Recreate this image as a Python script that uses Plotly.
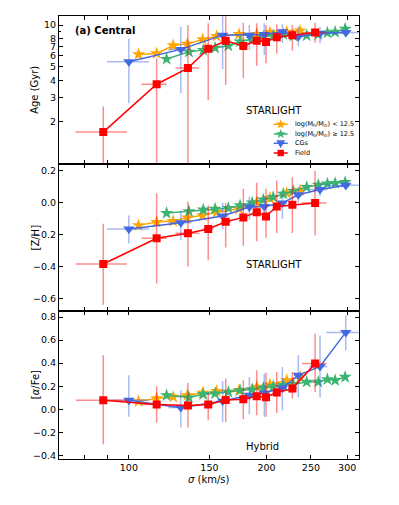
import math
import plotly.graph_objects as go
from plotly.subplots import make_subplots

# ---------------- data ----------------
# log(Mh/Msun) < 12.5 (orange)
lo_sigma = [105, 115, 125, 134.2, 145, 155.5, 174.1, 190.3, 203.5, 221.3, 236.7]
lo_age = [6.14, 6.24, 7.12, 7.31, 7.87, 8.31, 8.59, 8.6, 8.84, 8.9, 9.1]
lo_zh = [-0.142, -0.121, -0.115, -0.094, -0.079, -0.059, -0.038, 0.004, 0.029, 0.06, 0.077]
lo_afe = [0.069, 0.093, 0.107, 0.121, 0.141, 0.156, 0.164, 0.193, 0.214, 0.251, 0.28]

# log(Mh/Msun) >= 12.5 (green)
hi_sigma = [120.9, 135.3, 145.4, 154.3, 165, 175, 186, 196.7, 206.8, 217.6, 228.8, 244.7, 259.5, 271.6, 282.4, 297]
hi_age = [5.68, 6.41, 6.59, 6.85, 7.08, 7.6, 7.9, 8.2, 8.45, 8.55, 8.35, 8.4, 8.55, 8.8, 8.9, 9.38]
hi_zh = [-0.065, -0.054, -0.044, -0.038, -0.034, -0.017, 0.0, 0.019, 0.035, 0.056, 0.073, 0.098, 0.112, 0.119, 0.123, 0.129]
hi_afe = [0.121, 0.101, 0.13, 0.136, 0.15, 0.164, 0.173, 0.185, 0.199, 0.208, 0.217, 0.237, 0.237, 0.26, 0.251, 0.28]

# CGs (blue)
cg_sigma = [100, 129.9, 160.3, 183.4, 197.7, 216.5, 234.6, 261.7, 297.9]
cg_sig_minus = [10.4, 8, 5, 5, 5, 5, 5, 14, 28]
cg_sig_plus = [10.6, 7, 5, 5, 5, 5, 5, 10, 30]
cg_age = [5.43, 6.67, 8.45, 8.45, 8.55, 8.93, 8.22, 8.69, 8.84]
cg_age_plus = [2.57, 3.03, 3.2, 1.55, 1.75, 1.2, 1.5, 1.0, 0.9]
cg_age_minus = [2.7, 3.45, 3.66, 1.86, 2.48, 1.5, 1.2, 1.3, 0.7]
cg_zh = [-0.165, -0.125, -0.083, -0.027, -0.023, -0.002, 0.05, 0.083, 0.11]
cg_zh_plus = [0.085, 0.077, 0.083, 0.066, 0.06, 0.06, 0.05, 0.04, 0.03]
cg_zh_minus = [0.091, 0.111, 0.084, 0.079, 0.06, 0.1, 0.05, 0.04, 0.03]
cg_afe = [0.078, 0.014, 0.072, 0.121, 0.141, 0.185, 0.294, 0.372, 0.667]
cg_afe_plus = [0.216, 0.15, 0.17, 0.159, 0.168, 0.181, 0.174, 0.269, 0.147]
cg_afe_minus = [0.144, 0.173, 0.182, 0.164, 0.207, 0.194, 0.187, 0.271, 0.156]

# Field (red)
fd_sigma = [87.9, 115, 134.6, 149.1, 162.8, 177.9, 190.3, 199.4, 210.5, 227.7, 255.3]
fd_sig_minus = [11.4, 8.5, 8.2, 4, 4, 4, 4, 4, 4, 4, 16.4]
fd_sig_plus = [11.1, 6, 8.1, 4, 4, 4, 4, 4, 4, 4, 15.2]
fd_age = [1.69, 3.74, 4.89, 6.74, 7.69, 7.05, 7.69, 7.53, 8.17, 8.45, 8.84]
fd_age_plus = [0.89, 2.01, 5.11, 3.56, 3.9, 3.35, 2.61, 2.47, 1.93, 1.55, 1.56]
fd_age_minus = [0.9, 2.9, 4.0, 3.86, 4.0, 2.92, 2.61, 2.24, 1.93, 1.94, 1.4]
fd_zh = [-0.384, -0.223, -0.192, -0.165, -0.119, -0.092, -0.059, -0.086, -0.023, -0.013, -0.002]
fd_zh_plus = [0.253, 0.283, 0.2, 0.148, 0.119, 0.179, 0.184, 0.173, 0.163, 0.173, 0.202]
fd_zh_minus = [0.256, 0.283, 0.208, 0.195, 0.161, 0.178, 0.183, 0.133, 0.167, 0.177, 0.203]
fd_afe = [0.078, 0.041, 0.032, 0.041, 0.081, 0.087, 0.113, 0.104, 0.145, 0.179, 0.396]
fd_afe_plus = [0.39, 0.159, 0.196, 0.1, 0.185, 0.164, 0.225, 0.214, 0.178, 0.144, 0.259]
fd_afe_minus = [0.381, 0.159, 0.191, 0.136, 0.191, 0.174, 0.165, 0.17, 0.177, 0.086, 0.246]

x_tickvals = [80, 90, 100, 150, 200, 250, 300]
x_ticktext = ["", "", "100", "150", "200", "250", "300"]
age_tickvals = [2, 3, 4, 5, 6, 7, 8, 10]
zh_tickvals = [0.2, 0.0, -0.2, -0.4, -0.6]
afe_tickvals = [0.8, 0.6, 0.4, 0.2, 0.0, -0.2, -0.4]

legend_labels = ["log(M<sub>h</sub>/M<sub>⊙</sub>) < 12.5", "log(M<sub>h</sub>/M<sub>⊙</sub>) ≥ 12.5", "CGs", "Field"]

ORANGE = "#FFA500"
GREEN = "#3CB371"
BLUE = "#4169E1"
RED = "#FF0000"
BLUE_ERR = "rgba(65,105,225,0.45)"
RED_ERR = "rgba(255,0,0,0.45)"
FONT = "DejaVu Sans"

fig = make_subplots(rows=3, cols=1, shared_xaxes=True, vertical_spacing=0)

panels = [
    (1, lo_age, hi_age, (cg_age, cg_age_plus, cg_age_minus), (fd_age, fd_age_plus, fd_age_minus)),
    (2, lo_zh, hi_zh, (cg_zh, cg_zh_plus, cg_zh_minus), (fd_zh, fd_zh_plus, fd_zh_minus)),
    (3, lo_afe, hi_afe, (cg_afe, cg_afe_plus, cg_afe_minus), (fd_afe, fd_afe_plus, fd_afe_minus)),
]

for row, lo_y, hi_y, cg, fd in panels:
    fig.add_trace(go.Scatter(
        x=lo_sigma, y=lo_y, mode="lines+markers", name=legend_labels[0],
        line=dict(color=ORANGE, width=1.5),
        marker=dict(symbol="star", size=10, color=ORANGE, line=dict(width=0))), row=row, col=1)
    fig.add_trace(go.Scatter(
        x=hi_sigma, y=hi_y, mode="lines+markers", name=legend_labels[1],
        line=dict(color=GREEN, width=1.5),
        marker=dict(symbol="star", size=10, color=GREEN, line=dict(width=0))), row=row, col=1)
    fig.add_trace(go.Scatter(
        x=cg_sigma, y=cg[0], mode="lines+markers", name=legend_labels[2],
        line=dict(color=BLUE, width=1.5),
        marker=dict(symbol="triangle-down", size=10, color=BLUE, line=dict(width=0)),
        error_y=dict(type="data", array=cg[1], arrayminus=cg[2], color=BLUE_ERR, thickness=1.5, width=0),
        error_x=dict(type="data", array=cg_sig_plus, arrayminus=cg_sig_minus, color=BLUE_ERR, thickness=1.5, width=0)),
        row=row, col=1)
    fig.add_trace(go.Scatter(
        x=fd_sigma, y=fd[0], mode="lines+markers", name=legend_labels[3],
        line=dict(color=RED, width=1.5),
        marker=dict(symbol="square", size=8, color=RED, line=dict(width=0)),
        error_y=dict(type="data", array=fd[1], arrayminus=fd[2], color=RED_ERR, thickness=1.5, width=0),
        error_x=dict(type="data", array=fd_sig_plus, arrayminus=fd_sig_minus, color=RED_ERR, thickness=1.5, width=0)),
        row=row, col=1)

axis_common = dict(showline=True, linecolor="black", linewidth=1, mirror="allticks",
                   ticks="inside", ticklen=4, tickcolor="black", showgrid=False, zeroline=False,
                   tickfont=dict(family=FONT, size=9.5, color="black"))

for r in (1, 2, 3):
    fig.update_xaxes(type="log", range=[1.8473, 2.503], tickvals=x_tickvals, ticktext=x_ticktext,
                     showticklabels=(r == 3), row=r, col=1, **axis_common)

fig.update_yaxes(type="log", range=[0.0, 1.065], tickvals=age_tickvals,
                 ticktext=[str(v) for v in age_tickvals],
                 minor=dict(tickvals=[9], ticks="inside", ticklen=2, tickcolor="black"),
                 row=1, col=1, **axis_common)
fig.update_yaxes(range=[-0.681, 0.245], tickvals=zh_tickvals, tickformat=".1f", row=2, col=1, **axis_common)
fig.update_yaxes(range=[-0.432, 0.85], tickvals=afe_tickvals, tickformat=".1f", row=3, col=1, **axis_common)

ann_font = dict(family=FONT, size=10, color="black")
fig.add_annotation(text="<b>(a) Central</b>", xref="x domain", yref="y domain", x=0.045, y=0.905,
                   xanchor="left", yanchor="middle", showarrow=False,
                   font=dict(family=FONT, size=10, color="black"), row=1, col=1)
fig.add_annotation(text="STARLIGHT", xref="x domain", yref="y domain", x=0.717, y=0.36,
                   xanchor="center", yanchor="middle", showarrow=False, font=ann_font, row=1, col=1)
fig.add_annotation(text="STARLIGHT", xref="x2 domain", yref="y2 domain", x=0.717, y=0.318,
                   xanchor="center", yanchor="middle", showarrow=False, font=ann_font, row=2, col=1)
fig.add_annotation(text="Hybrid", xref="x3 domain", yref="y3 domain", x=0.677, y=0.083,
                   xanchor="center", yanchor="middle", showarrow=False, font=ann_font, row=3, col=1)

# axis titles
fig.add_annotation(text="Age (Gyr)", xref="paper", yref="y domain", x=-0.08, y=0.5, textangle=-90,
                   xanchor="center", yanchor="middle", showarrow=False, font=ann_font)
fig.add_annotation(text="[Z/H]", xref="paper", yref="y2 domain", x=-0.08, y=0.5, textangle=-90,
                   xanchor="center", yanchor="middle", showarrow=False, font=ann_font)
fig.add_annotation(text="[<i>α</i>/Fe]", xref="paper", yref="y3 domain", x=-0.08, y=0.5, textangle=-90,
                   xanchor="center", yanchor="middle", showarrow=False, font=ann_font)
fig.add_annotation(text="<i>σ</i> (km/s)", xref="paper", yref="paper", x=0.5, y=-0.047,
                   xanchor="center", yanchor="middle", showarrow=False, font=ann_font)

# ---- hand-drawn compact legend (matplotlib style) ----
def star_path(ro, ri):
    pts = []
    for k in range(10):
        ang = math.pi / 2 + k * math.pi / 5
        rr = ro if k % 2 == 0 else ri
        pts.append((rr * math.cos(ang), rr * math.sin(ang)))
    return "M " + " L ".join(f"{px:.2f},{py:.2f}" for px, py in pts) + " Z"

leg_x = 0.739
leg_text_x = 0.78
leg_y = [0.7555, 0.7336, 0.7126, 0.6907]
leg_colors = [ORANGE, GREEN, BLUE, RED]
leg_paths = [star_path(5, 2.1), star_path(5, 2.1), "M -4.5,3 L 4.5,3 L 0,-5 Z", "M -3.2,-3.2 L 3.2,-3.2 L 3.2,3.2 L -3.2,3.2 Z"]
for lbl, yy, col, pth in zip(legend_labels, leg_y, leg_colors, leg_paths):
    fig.add_shape(type="line", xref="paper", yref="paper", xsizemode="pixel", ysizemode="pixel",
                  xanchor=leg_x, yanchor=yy, x0=-7, x1=7, y0=0, y1=0, line=dict(color=col, width=1.5))
    fig.add_shape(type="path", xref="paper", yref="paper", xsizemode="pixel", ysizemode="pixel",
                  xanchor=leg_x, yanchor=yy, path=pth, fillcolor=col, line=dict(width=0))
    fig.add_annotation(text=lbl, xref="paper", yref="paper", x=leg_text_x, y=yy, xanchor="left",
                       yanchor="middle", showarrow=False, font=dict(family=FONT, size=6.5, color="black"))

fig.update_layout(
    width=399, height=505,
    margin=dict(l=59, r=40, t=16, b=46),
    paper_bgcolor="white", plot_bgcolor="white",
    font=dict(family=FONT, size=10, color="black"),
    showlegend=False,
    hovermode=False,
)

fig.write_html("out.html", config={"displayModeBar": False},
               post_script="document.body.style.margin='0';document.body.style.overflow='hidden';")
